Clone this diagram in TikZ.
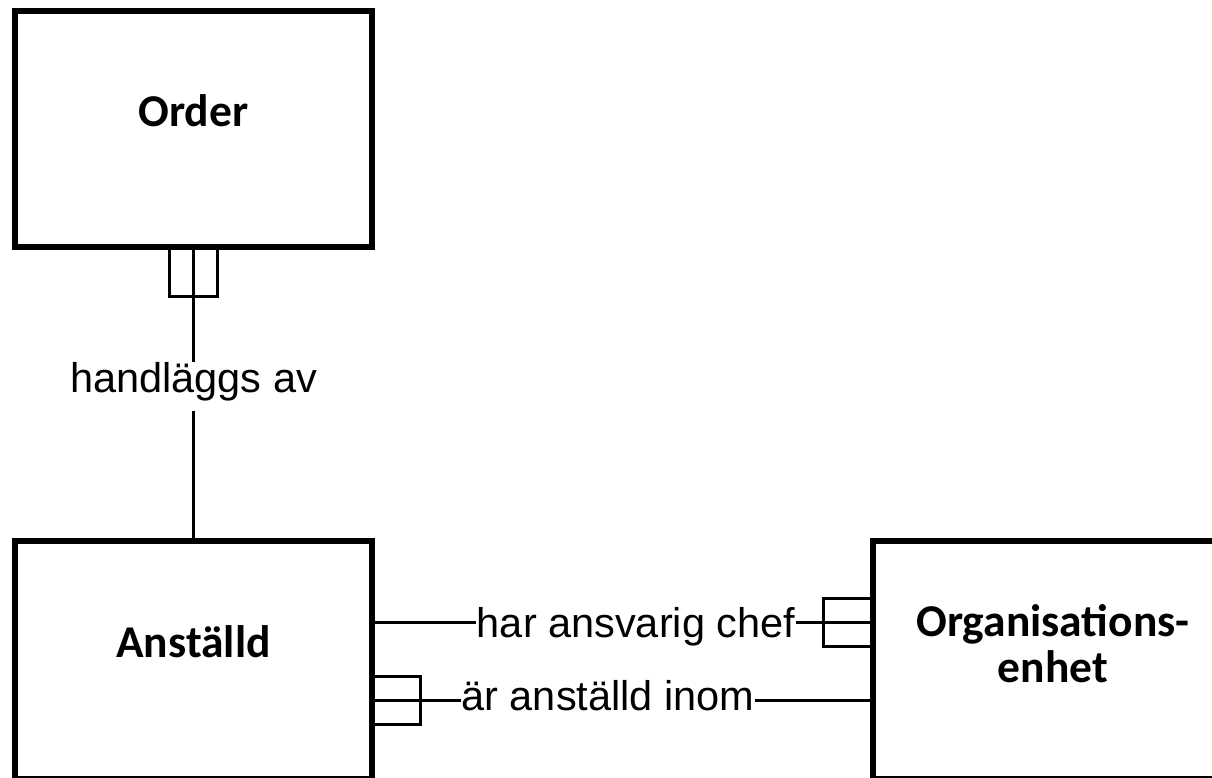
\documentclass[tikz,border=0pt]{standalone}
\usepackage{fontspec}
\setmainfont{Liberation Sans}
\newfontfamily\titlefont{Carlito}
\usetikzlibrary{calc}
\begin{document}
\begin{tikzpicture}[x=1pt,y=-1pt,
  entity/.style={draw, line width=6.5pt, rectangle, inner sep=0pt, outer sep=0pt, anchor=north west},
  title/.style={font=\titlefont\bfseries\fontsize{45.5}{46}\selectfont, align=center, inner sep=0pt},
  rel/.style={line width=3pt},
  lbl/.style={font=\fontsize{41.5}{48}\selectfont, fill=white, inner xsep=0.8pt, inner ysep=2pt, text height=29.5pt, text depth=8.6pt},
  fork/.style={draw, line width=3pt}
]
\fill[white] (0,0) rectangle (1212,778);
\clip (0,0) rectangle (1212,778);
% entities
\node[entity, minimum width=357pt, minimum height=236pt] (order) at (15,11) {};
\node[entity, minimum width=357pt, minimum height=238pt] (anst) at (15,541) {};
\node[entity, minimum width=366pt, minimum height=238pt] (org) at (873,541) {};
% titles
\node[title, anchor=base] (tOrder) at (193.5,127) {Order};
\node[title, anchor=base] (tAnst) at (193.5,657) {Anställd};
\node[title] (tOrg) at (1053,644) {Organisations-\\enhet};
% relationship: Order - Anställd
\draw[rel] (order.south) -- node[lbl, pos=0.476, text depth=17.6pt, inner ysep=1pt] (lHand) {handläggs av} (anst.north);
\draw[fork] ($(order.south)+(-24,0)$) rectangle ($(order.south)+(24,49)$);
% relationship: har ansvarig chef
\coordinate (a1) at ($(anst.north east)+(0,81)$);
\coordinate (b1) at (org.west |- a1);
\draw[rel] (a1) -- node[lbl, pos=0.527, yshift=-5pt] (lChef) {har ansvarig chef} (b1);
\draw[fork] ($(b1)+(-50,-24)$) rectangle ($(b1)+(0,24)$);
% relationship: är anställd inom
\coordinate (a2) at ($(anst.north east)+(0,159)$);
\coordinate (b2) at (org.west |- a2);
\draw[rel] (a2) -- node[lbl, pos=0.471] (lInom) {är anställd inom} (b2);
\draw[fork] ($(a2)+(0,-24)$) rectangle ($(a2)+(48,24)$);
\end{tikzpicture}
\end{document}
